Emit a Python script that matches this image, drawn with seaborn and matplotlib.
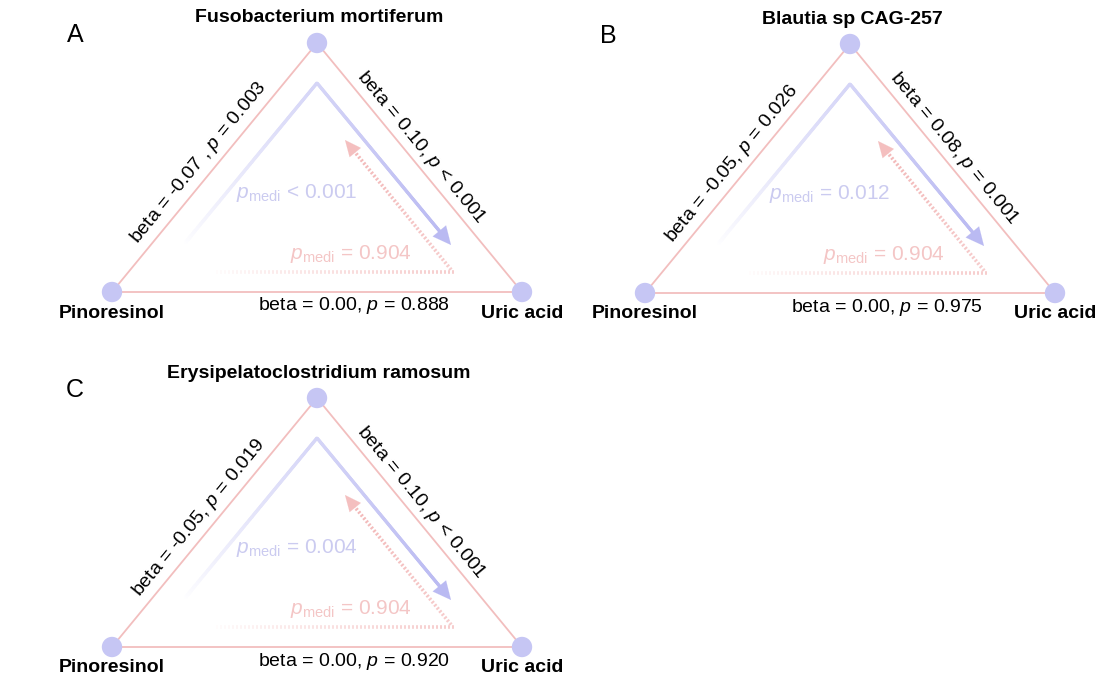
import numpy as np
import pandas as pd
import matplotlib
matplotlib.use("Agg")
import matplotlib.pyplot as plt
import seaborn as sns
from matplotlib.collections import LineCollection
from matplotlib.patches import FancyArrowPatch
from matplotlib.colors import to_rgb

# ---------------- data ----------------
panel_letters = ["A", "B", "C"]
mediators = ["Fusobacterium mortiferum", "Blautia sp CAG-257", "Erysipelatoclostridium ramosum"]
exposure = "Pinoresinol"
outcome = "Uric acid"
beta_exp_med = [-0.07, -0.05, -0.05]
comma_exp_med = [" ,", ",", ","]
p_exp_med = ["= 0.003", "= 0.026", "= 0.019"]
beta_med_out = [0.10, 0.08, 0.10]
p_med_out = ["< 0.001", "= 0.001", "< 0.001"]
beta_exp_out = [0.00, 0.00, 0.00]
p_exp_out = ["= 0.888", "= 0.975", "= 0.920"]
p_medi_fwd = ["< 0.001", "= 0.012", "= 0.004"]
p_medi_rev = ["= 0.904", "= 0.904", "= 0.904"]

# ---------------- style ----------------
sns.set_theme(style="white")
plt.rcParams["font.family"] = ["Liberation Sans", "DejaVu Sans"]
plt.rcParams["mathtext.fontset"] = "custom"
plt.rcParams["mathtext.rm"] = "Liberation Sans"
plt.rcParams["mathtext.it"] = "Liberation Sans:italic"
plt.rcParams["mathtext.bf"] = "Liberation Sans:bold"
plt.rcParams["text.color"] = "black"

NODE_C = "#c6c6f4"
EDGE_C = "#f2bebe"
BLUE_C = "#babaf2"
RED_C = "#f2b4b4"
BLUE_TXT = "#cbcbf0"
RED_TXT = "#f4c6c6"

W, H = 1113, 686
fig = plt.figure(figsize=(W / 100, H / 100), dpi=100)
ax = fig.add_axes([0, 0, 1, 1])

# layout: top-node anchor of each panel, triangle half width / height
anchors = [(317, 43), (850, 44), (317, 398)]
HW, TH = 205, 249


def blend(c, t):
    c = np.array(to_rgb(c))
    return tuple(1 - t * (1 - c))


def sample_path(pts, ds):
    pts = np.asarray(pts, float)
    seg = np.diff(pts, axis=0)
    L = np.hypot(seg[:, 0], seg[:, 1])
    cum = np.concatenate([[0], np.cumsum(L)])
    s = np.arange(0, cum[-1] + 1e-9, ds)
    xs = np.interp(s, cum, pts[:, 0])
    ys = np.interp(s, cum, pts[:, 1])
    return np.column_stack([xs, ys]), s / cum[-1], s, cum


def gradient_line(pts, color, lw, t0=0.0, t1=1.0, power=1.0, z=2):
    P, t, _, _ = sample_path(pts, 1.0)
    segs = np.stack([P[:-1], P[1:]], axis=1)
    tt = t0 + (t1 - t0) * (t[:-1] ** power)
    cols = [blend(color, v) for v in tt]
    ax.add_collection(LineCollection(segs, colors=cols, linewidths=lw, capstyle="round", zorder=z))


def gradient_dots(pts, color, lw, t0=0.0, t1=1.0, power=1.0, period=4.0, dash=2.0, z=2):
    pts = np.asarray(pts, float)
    P, t, s, cum = sample_path(pts, period)
    segs, tt = [], []
    for p, v, sv in zip(P, t, s):
        k = min(np.searchsorted(cum, sv, side="right") - 1, len(pts) - 2)
        d = pts[k + 1] - pts[k]
        d = d / np.hypot(*d)
        segs.append([p, p + dash * d])
        tt.append(t0 + (t1 - t0) * v ** power)
    cols = [blend(color, v) for v in tt]
    ax.add_collection(LineCollection(segs, colors=cols, linewidths=lw, capstyle="butt", zorder=z))


def arrow_head(tip, direction, color, z=3, hl=1.15, hw=0.5):
    d = np.asarray(direction, float)
    d = d / np.hypot(*d)
    tip = np.asarray(tip, float)
    base = tip - 18 * d
    ax.add_patch(FancyArrowPatch(tuple(base), tuple(tip),
                                 arrowstyle=f"-|>,head_length={hl},head_width={hw}",
                                 mutation_scale=10, color=color, lw=0.1,
                                 shrinkA=0, shrinkB=0, zorder=z))


def edge_label(p1, p2, text, perp, along):
    p1, p2 = np.asarray(p1, float), np.asarray(p2, float)
    mid = (p1 + p2) / 2
    d = p2 - p1
    d = d / np.hypot(*d)
    nrm = np.array([d[1], -d[0]])
    if nrm[1] > 0:
        nrm = -nrm
    pos = mid + perp * nrm + along * d
    ang = np.degrees(np.arctan2(-d[1], d[0]))
    if ang > 90:
        ang -= 180
    if ang < -90:
        ang += 180
    ax.text(pos[0], pos[1], text, rotation=ang, rotation_mode="anchor",
            ha="center", va="center", fontsize=14, color="black", zorder=5)


node_rows, edge_rows = [], []
for i, (ax0, ay0) in enumerate(anchors):
    T = (ax0, ay0)
    L = (ax0 - HW, ay0 + TH)
    R = (ax0 + HW, ay0 + TH)
    for nm, p in zip([mediators[i], exposure, outcome], [T, L, R]):
        node_rows.append({"panel": i, "node": nm, "x": p[0], "y": p[1]})
    for ename, (a, b) in {"a": (L, T), "b": (T, R), "c": (L, R)}.items():
        edge_rows.append({"edge": f"{i}{ename}", "x": a[0], "y": a[1]})
        edge_rows.append({"edge": f"{i}{ename}", "x": b[0], "y": b[1]})

nodes = pd.DataFrame(node_rows)
edges = pd.DataFrame(edge_rows)

sns.lineplot(data=edges, x="x", y="y", units="edge", estimator=None, sort=False,
             color=EDGE_C, linewidth=1.3, ax=ax, legend=False, zorder=1)
sns.scatterplot(data=nodes, x="x", y="y", s=215, color=NODE_C, edgecolor="none",
                ax=ax, legend=False, zorder=6)

for i, (ax0, ay0) in enumerate(anchors):
    T = np.array([ax0, ay0], float)
    L = T + [-HW, TH]
    R = T + [HW, TH]

    ax.text(ax0 + 2, ay0 - 25, mediators[i], ha="center", va="center",
            fontsize=14, fontweight="bold", color="black", zorder=5)
    ax.text(ax0 - 242, ay0 - 8, panel_letters[i], ha="center", va="center",
            fontsize=18, color="black", zorder=5)
    ax.text(L[0], L[1] + 21, exposure, ha="center", va="center",
            fontsize=14, fontweight="bold", color="black", zorder=5)
    ax.text(R[0], R[1] + 21, outcome, ha="center", va="center",
            fontsize=14, fontweight="bold", color="black", zorder=5)

    edge_label(L, T, f"beta = {beta_exp_med[i]:.2f}{comma_exp_med[i]} $p$ {p_exp_med[i]}", 15, -6)
    edge_label(R, T, f"beta = {beta_med_out[i]:.2f}, $p$ {p_med_out[i]}", 14, 15)
    ax.text(ax0 + 37, ay0 + 263, f"beta = {beta_exp_out[i]:.2f}, $p$ {p_exp_out[i]}",
            ha="center", va="center", fontsize=14, color="black", zorder=5)

    # forward mediation path (blue, gradient)
    b0 = T + [-132, 200]
    b1 = T + [0, 40]
    b2 = T + [134, 202]
    dirb = (b2 - b1) / np.hypot(*(b2 - b1))
    gradient_line([b0, b1, b2 - 12 * dirb], BLUE_C, 2.3, t0=0.0, t1=1.0, power=0.75)
    arrow_head(b2, dirb, BLUE_C, hl=1.3, hw=0.62)

    # reverse mediation path (red, dotted, gradient)
    r0 = T + [-105, 229]
    r1 = T + [136, 229]
    r2 = T + [28, 97]
    dirr = (r2 - r1) / np.hypot(*(r2 - r1))
    gradient_dots([r0, r1, r2 - 12 * dirr], RED_C, 2.6, t0=0.0, t1=0.95, power=0.7,
                  period=4.0, dash=2.0)
    arrow_head(r2, dirr, blend(RED_C, 0.85), hl=1.15, hw=0.52)

    ax.text(ax0 - 81, ay0 + 155, r"$p_{\mathrm{medi}}$ " + p_medi_fwd[i], ha="left",
            va="baseline", fontsize=15, color=BLUE_TXT, zorder=5)
    ax.text(ax0 - 27, ay0 + 216, r"$p_{\mathrm{medi}}$ " + p_medi_rev[i], ha="left",
            va="baseline", fontsize=15, color=RED_TXT, zorder=5)

ax.set_xlim(0, W)
ax.set_ylim(H, 0)
ax.set_axis_off()
fig.savefig("out.png", dpi=100, facecolor="white")
